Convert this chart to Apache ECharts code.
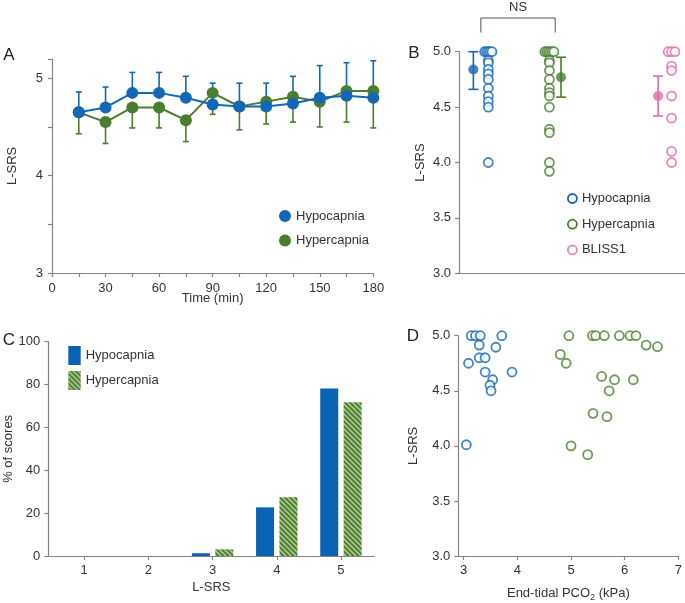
<!DOCTYPE html>
<html><head><meta charset="utf-8">
<script src="https://cdn.jsdelivr.net/npm/echarts@6/dist/echarts.min.js"></script>
<style>html,body{margin:0;padding:0;background:#fff}#c{width:685px;height:603px}</style>
</head><body><div id="c"></div>
<script>
// ---------- Panel A: L-SRS over time ----------
const timeMin   = [15, 30, 45, 60, 75, 90, 105, 120, 135, 150, 165, 180];
const hypoMean  = [4.65, 4.70, 4.85, 4.85, 4.80, 4.73, 4.71, 4.71, 4.74, 4.80, 4.82, 4.80];
const hypoUpper = [4.86, 4.91, 5.06, 5.06, 5.02, 4.95, 4.95, 4.95, 5.02, 5.13, 5.16, 5.18];
const hyperMean = [4.65, 4.55, 4.70, 4.70, 4.57, 4.85, 4.71, 4.76, 4.81, 4.76, 4.87, 4.87];
const hyperLower= [4.43, 4.33, 4.49, 4.49, 4.35, 4.63, 4.47, 4.53, 4.55, 4.50, 4.55, 4.49];

// ---------- Panel B: individual scores ----------
const groupNames = ['Hypocapnia', 'Hypercapnia', 'BLISS1'];
const bHypo  = [5, 5, 5, 5, 5, 4.92, 4.90, 4.84, 4.80, 4.75, 4.67, 4.60, 4.55, 4.50, 4.00];
const bHyper = [5, 5, 5, 5, 5, 5, 4.92, 4.90, 4.83, 4.75, 4.67, 4.63, 4.60, 4.50, 4.30, 4.27, 4.00, 3.92];
const bBliss = [5, 5, 5, 4.87, 4.83, 4.60, 4.40, 4.10, 4.00];
const bMean  = [4.84, 4.77, 4.60];
const bLow   = [4.66, 4.59, 4.42];
const bHigh  = [5.00, 4.95, 4.78];

// ---------- Panel C: distribution of scores ----------
const lsrsLevels = [1, 2, 3, 4, 5];
const cHypo  = [0, 0, 1.3, 22.7, 78.2];
const cHyper = [0, 0, 3.1, 27.4, 71.7];

// ---------- Panel D: L-SRS vs end-tidal PCO2 ----------
const dHypoPco2  = [3.14, 3.22, 3.31, 3.71, 3.29, 3.60, 3.09, 3.29, 3.40, 3.40, 3.90, 3.54, 3.49, 3.51, 3.05];
const dHypoLsrs  = [5.00, 5.00, 5.00, 5.00, 4.915, 4.895, 4.75, 4.80, 4.80, 4.67, 4.67, 4.60, 4.55, 4.50, 4.01];
const dHyperPco2 = [4.96, 5.40, 5.46, 5.62, 5.90, 6.10, 6.21, 6.40, 6.61, 4.80, 4.91, 5.57, 5.81, 6.16, 5.71, 5.41, 5.67, 5.00, 5.31];
const dHyperLsrs = [5.00, 5.00, 5.00, 5.00, 5.00, 5.00, 5.00, 4.915, 4.90, 4.83, 4.75, 4.63, 4.60, 4.60, 4.50, 4.295, 4.265, 4.00, 3.92];

// ---------- styling ----------
const BLUE = '#1268b4', GREEN = '#4b7d2e', PINK = '#de6aa8', BARBLUE = '#0b63b6';
const AXIS = '#858585', TXT = '#333333';
const FONT = '"Liberation Sans", Arial, Helvetica, sans-serif';

function hatch() {
  const s = 5, c = document.createElement('canvas');
  c.width = s; c.height = s;
  const g = c.getContext('2d');
  g.fillStyle = '#4a7a2c'; g.fillRect(0, 0, s, s);
  g.strokeStyle = '#a9c98d'; g.lineWidth = 1.6;
  g.beginPath();
  for (const o of [-s, 0, s]) { g.moveTo(o - 1, -1); g.lineTo(o + s + 1, s + 1); }
  g.stroke();
  return c;
}
const HATCH = { image: hatch(), repeat: 'repeat' };

const chart = echarts.init(document.getElementById('c'), null, { renderer: 'canvas' });

const lbl = { color: TXT, fontSize: 13, fontFamily: FONT };
const axLine = { show: true, lineStyle: { color: AXIS, width: 1.2 } };
const axTick = { show: true, length: 4, lineStyle: { color: AXIS, width: 1.2 } };
const nameStyle = { color: TXT, fontSize: 13, fontFamily: FONT };

// B: group x positions and offsets of the mean markers (layout, not data)
const gX = [1, 2, 4];
const meanDx = [-0.245, 0.19, -0.22];
function jitterGroup(vals, gx) {
  const counts = {}, seen = {};
  vals.forEach(v => counts[v] = (counts[v] || 0) + 1);
  return vals.map(v => {
    const n = counts[v]; const i = (seen[v] = (seen[v] || 0) + 1) - 1;
    const off = n > 1 ? (i - (n - 1) / 2) * (n > 3 ? 0.03 : 0.055) : 0;
    return [gx + off, v];
  });
}

function errRender(color, cap, capBoth) {
  return function (params, api) {
    const x = api.value(0), a = api.value(1), b = api.value(2);
    const p0 = api.coord([x, a]), p1 = api.coord([x, b]);
    const st = { stroke: color, lineWidth: 1.6 };
    const ch = [
      { type: 'line', shape: { x1: p0[0], y1: p0[1], x2: p1[0], y2: p1[1] }, style: st },
      { type: 'line', shape: { x1: p1[0] - cap, y1: p1[1], x2: p1[0] + cap, y2: p1[1] }, style: st }
    ];
    if (capBoth) ch.push({ type: 'line', shape: { x1: p0[0] - cap, y1: p0[1], x2: p0[0] + cap, y2: p0[1] }, style: st });
    return { type: 'group', children: ch };
  };
}

const option = {
  backgroundColor: '#fff',
  animation: false,
  textStyle: { fontFamily: FONT },
  grid: [
    { left: 52, top: 58.8, width: 321.3, height: 214.2 },
    { left: 459, top: 51.7, width: 226, height: 221.6 },
    { left: 48.3, top: 341.7, width: 326, height: 214.3 },
    { left: 458.3, top: 335.7, width: 221.7, height: 220.3 }
  ],
  xAxis: [
    { gridIndex: 0, type: 'value', min: 0, max: 180, interval: 15,
      axisLine: axLine, axisTick: axTick, splitLine: { show: false },
      axisLabel: Object.assign({ margin: 9, formatter: v => (v % 30 === 0 ? String(v) : '') }, lbl),
      name: 'Time (min)', nameLocation: 'middle', nameGap: 18.5, nameMoveOverlap: false, nameTextStyle: nameStyle },
    { gridIndex: 1, type: 'value', min: 0.52, max: 4.22,
      axisLine: axLine, axisTick: { show: false }, axisLabel: { show: false }, splitLine: { show: false } },
    { gridIndex: 2, type: 'value', min: 0.44, max: 5.52,
      axisLine: axLine, splitLine: { show: false },
      axisTick: Object.assign({}, axTick, { customValues: lsrsLevels }),
      axisLabel: Object.assign({ margin: 8, customValues: lsrsLevels }, lbl),
      name: 'L-SRS', nameLocation: 'middle', nameGap: 25, nameMoveOverlap: false, nameTextStyle: nameStyle },
    { gridIndex: 3, type: 'value', min: 2.9, max: 7,
      axisLine: axLine, splitLine: { show: false },
      axisTick: Object.assign({}, axTick, { customValues: [3, 4, 5, 6, 7] }),
      axisLabel: Object.assign({ margin: 8, customValues: [3, 4, 5, 6, 7] }, lbl),
      name: 'End-tidal PCO{sub|2} (kPa)', nameLocation: 'middle', nameGap: 29, nameMoveOverlap: false,
      nameTextStyle: Object.assign({}, nameStyle, { rich: { sub: { fontSize: 9, verticalAlign: 'bottom', padding: [8, 0, 0, 0], color: TXT, fontFamily: FONT } } }) }
  ],
  yAxis: [
    { gridIndex: 0, type: 'value', min: 3, max: 5.2, interval: 0.5,
      axisLine: axLine, axisTick: axTick, splitLine: { show: false },
      axisLabel: Object.assign({ margin: 9, formatter: v => (Math.abs(v - Math.round(v)) < 1e-9 ? String(Math.round(v)) : '') }, lbl),
      name: 'L-SRS', nameLocation: 'middle', nameGap: 33, nameMoveOverlap: false, nameRotate: 90, nameTextStyle: nameStyle },
    { gridIndex: 1, type: 'value', min: 3, max: 5, interval: 0.5,
      axisLine: axLine, axisTick: axTick, splitLine: { show: false },
      axisLabel: Object.assign({ margin: 8, formatter: v => v.toFixed(1) }, lbl),
      name: 'L-SRS', nameLocation: 'middle', nameGap: 32, nameMoveOverlap: false, nameRotate: 90, nameTextStyle: nameStyle },
    { gridIndex: 2, type: 'value', min: 0, max: 100, interval: 20,
      axisLine: axLine, axisTick: axTick, splitLine: { show: false },
      axisLabel: Object.assign({ margin: 8 }, lbl),
      name: '% of scores', nameLocation: 'middle', nameGap: 33, nameMoveOverlap: false, nameRotate: 90, nameTextStyle: nameStyle },
    { gridIndex: 3, type: 'value', min: 3, max: 5, interval: 0.5,
      axisLine: axLine, axisTick: axTick, splitLine: { show: false },
      axisLabel: Object.assign({ margin: 8, formatter: v => v.toFixed(1) }, lbl),
      name: 'L-SRS', nameLocation: 'middle', nameGap: 38, nameMoveOverlap: false, nameRotate: 90, nameTextStyle: nameStyle }
  ],
  legend: [
    { selectedMode: false, orient: 'vertical', padding: 0, left: 279, top: 209.5, itemGap: 11.5, itemWidth: 12, itemHeight: 12,
      textStyle: { color: TXT, fontSize: 13, fontFamily: FONT },
      data: [{ name: 'Hypocapnia', icon: 'circle', itemStyle: { color: BLUE, borderWidth: 0 } },
             { name: 'Hypercapnia', icon: 'circle', itemStyle: { color: GREEN, borderWidth: 0 } }] },
    { selectedMode: false, orient: 'vertical', padding: 0, left: 567, top: 192, itemGap: 12.7, itemWidth: 9, itemHeight: 9,
      textStyle: { color: TXT, fontSize: 13, fontFamily: FONT },
      data: [{ name: 'Hypocapnia', icon: 'circle', itemStyle: { color: '#fff', borderColor: BLUE, borderWidth: 1.8 } },
             { name: 'Hypercapnia', icon: 'circle', itemStyle: { color: '#fff', borderColor: GREEN, borderWidth: 1.8 } },
             { name: 'BLISS1', icon: 'circle', itemStyle: { color: '#fff', borderColor: PINK, borderWidth: 1.8 } }] },
    { selectedMode: false, orient: 'vertical', padding: 0, left: 68.3, top: 346, itemGap: 6, itemWidth: 12.4, itemHeight: 19,
      textStyle: { color: TXT, fontSize: 13, fontFamily: FONT },
      data: [{ name: 'Hypocapnia', icon: 'rect', itemStyle: { color: BARBLUE, borderWidth: 0 } },
             { name: 'Hypercapnia', icon: 'rect', itemStyle: { color: HATCH, borderWidth: 0 } }] }
  ],
  series: [
    // ----- A -----
    { name: 'Hypercapnia', type: 'line', xAxisIndex: 0, yAxisIndex: 0, z: 3,
      data: timeMin.map((t, i) => [t, hyperMean[i]]),
      symbol: 'circle', symbolSize: 12, itemStyle: { color: GREEN }, lineStyle: { color: GREEN, width: 2 } },
    { name: 'Hypocapnia', type: 'line', xAxisIndex: 0, yAxisIndex: 0, z: 4,
      data: timeMin.map((t, i) => [t, hypoMean[i]]),
      symbol: 'circle', symbolSize: 12, itemStyle: { color: BLUE }, lineStyle: { color: BLUE, width: 2 } },
    { name: 'A hyper err', type: 'custom', xAxisIndex: 0, yAxisIndex: 0, z: 2,
      renderItem: errRender(GREEN, 3, false), encode: { x: 0, y: [1, 2] },
      data: timeMin.map((t, i) => [t, hyperMean[i], hyperLower[i]]) },
    { name: 'A hypo err', type: 'custom', xAxisIndex: 0, yAxisIndex: 0, z: 2,
      renderItem: errRender(BLUE, 3, false), encode: { x: 0, y: [1, 2] },
      data: timeMin.map((t, i) => [t, hypoMean[i], hypoUpper[i]]) },
    // ----- B -----
    { name: 'Hypocapnia', type: 'scatter', xAxisIndex: 1, yAxisIndex: 1, clip: false,
      data: jitterGroup(bHypo, gX[0]), symbol: 'circle', symbolSize: 9,
      itemStyle: { color: '#fff', borderColor: BLUE, borderWidth: 1.8 } },
    { name: 'Hypercapnia', type: 'scatter', xAxisIndex: 1, yAxisIndex: 1, clip: false,
      data: jitterGroup(bHyper, gX[1]), symbol: 'circle', symbolSize: 9,
      itemStyle: { color: '#fff', borderColor: GREEN, borderWidth: 1.8 } },
    { name: 'BLISS1', type: 'scatter', xAxisIndex: 1, yAxisIndex: 1, clip: false,
      data: jitterGroup(bBliss, gX[2]), symbol: 'circle', symbolSize: 9,
      itemStyle: { color: '#fff', borderColor: PINK, borderWidth: 1.8 } },
    { name: 'B err', type: 'custom', xAxisIndex: 1, yAxisIndex: 1, clip: false,
      renderItem: function (params, api) {
        const cols = [BLUE, GREEN, PINK];
        return errRender(cols[params.dataIndex], 5, true)(params, api);
      }, encode: { x: 0, y: [1, 2] },
      data: bMean.map((m, i) => [gX[i] + meanDx[i], bLow[i], bHigh[i]]) },
    { name: 'B mean', type: 'scatter', xAxisIndex: 1, yAxisIndex: 1, clip: false, z: 5,
      data: bMean.map((m, i) => ({ value: [gX[i] + meanDx[i], m], itemStyle: { color: [BLUE, GREEN, PINK][i] } })),
      symbol: 'circle', symbolSize: 10 },
    // ----- C -----
    { name: 'Hypocapnia', type: 'bar', xAxisIndex: 2, yAxisIndex: 2, barWidth: 18, barGap: '30%',
      data: lsrsLevels.map((l, i) => [l, cHypo[i]]), itemStyle: { color: BARBLUE } },
    { name: 'Hypercapnia', type: 'bar', xAxisIndex: 2, yAxisIndex: 2, barWidth: 18, barGap: '30%',
      data: lsrsLevels.map((l, i) => [l, cHyper[i]]), itemStyle: { color: HATCH } },
    // ----- D -----
    { name: 'Hypocapnia', type: 'scatter', xAxisIndex: 3, yAxisIndex: 3, clip: false,
      data: dHypoPco2.map((x, i) => [x, dHypoLsrs[i]]), symbol: 'circle', symbolSize: 9,
      itemStyle: { color: '#fff', borderColor: BLUE, borderWidth: 1.8 } },
    { name: 'Hypercapnia', type: 'scatter', xAxisIndex: 3, yAxisIndex: 3, clip: false,
      data: dHyperPco2.map((x, i) => [x, dHyperLsrs[i]]), symbol: 'circle', symbolSize: 9,
      itemStyle: { color: '#fff', borderColor: GREEN, borderWidth: 1.8 } }
  ]
};
chart.setOption(option);

// annotations: panel letters and NS bracket
const bx1 = chart.convertToPixel({ gridIndex: 1 }, [gX[0] + meanDx[0] / 2, 5])[0];
const bx2 = chart.convertToPixel({ gridIndex: 1 }, [gX[1] + meanDx[1] / 2, 5])[0];
const letter = (t, x, y) => ({ type: 'text', x: x, y: y, style: { text: t, fill: '#222', font: '17px ' + FONT, textAlign: 'center', textVerticalAlign: 'middle' } });
chart.setOption({
  graphic: [
    letter('A', 9, 55), letter('B', 414, 53), letter('C', 9, 340), letter('D', 413, 336),
    { type: 'polyline', shape: { points: [[bx1, 32.5], [bx1, 18], [bx2, 18], [bx2, 32.5]] }, style: { stroke: '#555', lineWidth: 1, fill: null } },
    { type: 'text', x: (bx1 + bx2) / 2, y: 7.5, style: { text: 'NS', fill: TXT, font: '13px ' + FONT, textAlign: 'center', textVerticalAlign: 'middle' } }
  ]
});
</script>
</body></html>
